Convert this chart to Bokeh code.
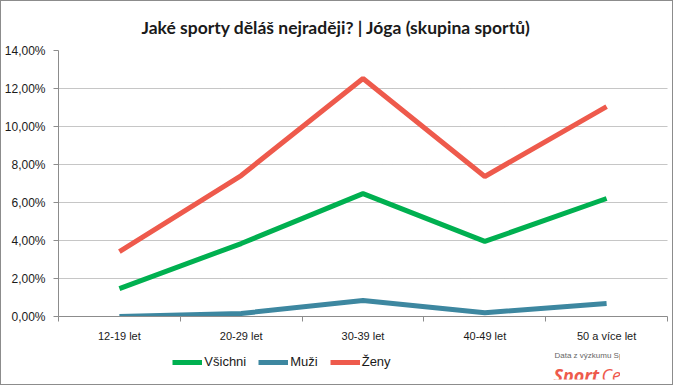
from bokeh.plotting import figure
from bokeh.models import (FixedTicker, Legend, LegendItem, Label, Range1d, ColumnDataSource)
from bokeh.layouts import column
from bokeh.embed import file_html
from bokeh.resources import INLINE

categories = ["12-19 let", "20-29 let", "30-39 let", "40-49 let", "50 a více let"]
vsichni = [1.47, 3.84, 6.47, 3.95, 6.21]
muzi = [0.0, 0.16, 0.84, 0.20, 0.68]
zeny = [3.42, 7.42, 12.53, 7.37, 11.05]
y_ticks = [0, 2, 4, 6, 8, 10, 12, 14]
y_tick_labels = ["0,00%", "2,00%", "4,00%", "6,00%", "8,00%", "10,00%", "12,00%", "14,00%"]
series_names = ["Všichni", "Muži", "Ženy"]
colors = ["#00B050", "#3D87A0", "#EE5A4C"]

xpos = [i + 0.5 for i in range(len(categories))]

# ---- main chart ----
p = figure(frame_width=609, frame_height=266, output_backend="svg", toolbar_location=None,
           x_range=Range1d(0, len(categories)), y_range=Range1d(0, 14))
p.outline_line_color = None
p.background_fill_color = "white"

p.title.text = "Jaké sporty děláš nejraději? | Jóga (skupina sportů)"
p.title.align = "left"
p.title.offset = 83
p.title.text_font = "Lato"
p.title.text_font_size = "17.5px"
p.title.text_font_style = "bold"
p.title.text_color = "#1a1a1a"
p.title.standoff = 26

p.xaxis.ticker = FixedTicker(ticks=xpos, minor_ticks=list(range(len(categories) + 1)))
p.xaxis.major_label_overrides = {x: c for x, c in zip(xpos, categories)}
p.xaxis.major_tick_line_color = None
p.xaxis.minor_tick_line_color = "#8c8c8c"
p.xaxis.minor_tick_out = 5
p.xaxis.minor_tick_in = 0
p.xaxis.axis_line_color = "#8c8c8c"
p.xaxis.major_label_standoff = 7
p.xaxis.major_label_text_font = "Liberation Sans"
p.xaxis.major_label_text_font_size = "11px"
p.xaxis.major_label_text_color = "#1a1a1a"

p.yaxis.ticker = FixedTicker(ticks=y_ticks, minor_ticks=[])
p.yaxis.major_label_overrides = {t: s for t, s in zip(y_ticks, y_tick_labels)}
p.yaxis.major_tick_out = 5
p.yaxis.major_tick_in = 0
p.yaxis.major_tick_line_color = "#8c8c8c"
p.yaxis.axis_line_color = "#8c8c8c"
p.yaxis.major_label_standoff = 8
p.yaxis.major_label_text_font = "Liberation Sans"
p.yaxis.major_label_text_font_size = "12px"
p.yaxis.major_label_text_color = "#1a1a1a"

p.xgrid.grid_line_color = None
p.ygrid.grid_line_color = "#8c8c8c"
p.ygrid.grid_line_dash = "1 1"
p.ygrid.grid_line_width = 1

src = ColumnDataSource(dict(x=xpos, vsichni=vsichni, muzi=muzi, zeny=zeny))
for col, c in zip(["vsichni", "muzi", "zeny"], colors):
    p.line("x", col, source=src, line_color=c, line_width=5)

# ---- footer strip: legend and source credit ----
p2 = figure(frame_width=609, frame_height=30, output_backend="svg", toolbar_location=None,
            x_range=Range1d(0, 1), y_range=Range1d(100, 101))
p2.axis.visible = False
p2.grid.visible = False
p2.outline_line_color = None

items = []
for name, col, c in zip(series_names, ["vsichni", "muzi", "zeny"], colors):
    r = p2.line("x", col, source=src, line_color=c, line_width=5)
    items.append(LegendItem(label=name, renderers=[r]))

legend = Legend(items=items, orientation="horizontal", location=(168, 10),
                border_line_color=None, background_fill_alpha=0,
                label_text_font="Liberation Sans", label_text_font_size="13px",
                label_text_color="#1a1a1a", glyph_width=30, glyph_height=12,
                label_standoff=2, spacing=12, padding=2, margin=0)
p2.add_layout(legend, "center")

p2.add_layout(Label(x=612, y=24, x_units="screen", y_units="screen",
                    text="Data z výzkumu Sport roku 2014", text_align="right",
                    text_baseline="alphabetic",
                    text_font="Liberation Sans", text_font_size="8px",
                    text_color="#666666"))
p2.add_layout(Label(x=495, y=5, x_units="screen", y_units="screen",
                    text="Sport", text_align="left", text_baseline="alphabetic",
                    text_font="Open Sans", text_font_size="18px", text_font_style="bold italic",
                    text_color="#EE5A4C"))
p2.add_layout(Label(x=543, y=5, x_units="screen", y_units="screen",
                    text="Central", text_align="left", text_baseline="alphabetic",
                    text_font="Open Sans", text_font_size="18px", text_font_style="italic",
                    text_color="#EE5A4C"))

layout = column(p, p2, spacing=0)
layout.styles = {"border": "1px solid #8c8c8c"}

open("out.html", "w").write(file_html(layout, INLINE))
